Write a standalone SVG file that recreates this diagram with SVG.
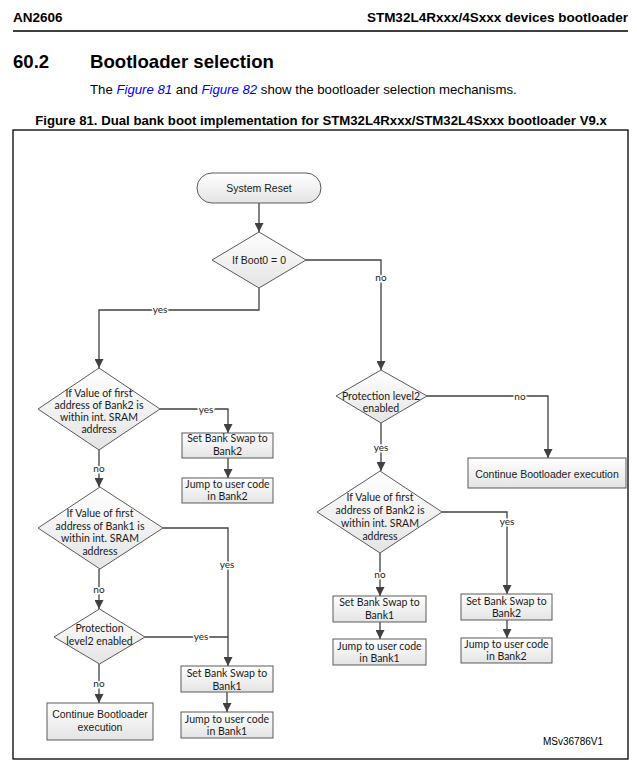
<svg xmlns="http://www.w3.org/2000/svg" width="637" height="766" viewBox="0 0 637 766">
<defs>
<linearGradient id="g" x1="0" y1="0" x2="0" y2="1">
<stop offset="0" stop-color="#ffffff"/>
<stop offset="1" stop-color="#e4e4e4"/>
</linearGradient>
<marker id="arr" viewBox="0 0 10 10" refX="10" refY="5" markerWidth="9" markerHeight="9" markerUnits="userSpaceOnUse" orient="auto">
<path d="M0,0 L10,5 L0,10 Z" fill="#404040"/>
</marker>
<style>
.hd{font-family:"Liberation Sans",Arial,sans-serif;font-weight:bold;fill:#000}
.bd{font-family:"Liberation Sans",Arial,sans-serif;fill:#000}
.lk{fill:#0000ff;font-style:italic}
.node{fill:url(#g);stroke:#5a5a5a;stroke-width:1}
.t{font-family:Lato,"Open Sans",sans-serif;font-size:10.5px;fill:#1a1a1a;text-anchor:middle}
.a{font-family:"Liberation Sans",Arial,sans-serif;font-size:10.5px;fill:#1a1a1a;text-anchor:middle}
.c{fill:none;stroke:#404040;stroke-width:1.3}
.ca{fill:none;stroke:#404040;stroke-width:1.3;marker-end:url(#arr)}
.lb{font-family:Lato,"Open Sans",sans-serif;font-size:10px;fill:#1a1a1a;text-anchor:middle;stroke:#fff;stroke-width:3px;paint-order:stroke}
</style>
</defs>
<rect width="637" height="766" fill="#fff"/>
<text class="hd" x="13" y="22" font-size="13.5">AN2606</text>
<text class="hd" x="628" y="22" font-size="13.5" text-anchor="end">STM32L4Rxxx/4Sxxx devices bootloader</text>
<line x1="13" y1="31" x2="628" y2="31" stroke="#000" stroke-width="1.3"/>
<text class="hd" x="13" y="68" font-size="18.6">60.2</text>
<text class="hd" x="90" y="68" font-size="18.6">Bootloader selection</text>
<text class="bd" x="90" y="94" font-size="13.2">The <tspan class="lk">Figure 81</tspan> and <tspan class="lk">Figure 82</tspan> show the bootloader selection mechanisms.</text>
<text class="hd" x="321" y="125" font-size="13.2" text-anchor="middle">Figure 81. Dual bank boot implementation for STM32L4Rxxx/STM32L4Sxxx bootloader V9.x</text>
<rect x="13" y="130" width="615" height="629" fill="none" stroke="#000" stroke-width="1.3"/>

<g id="connectors">
<path class="ca" d="M259,203 V232"/>
<path class="ca" d="M306,260 H381 V370"/>
<path class="ca" d="M259,288 V310 H99 V368"/>
<path class="ca" d="M160,409 H228 V433"/>
<path class="ca" d="M228,458 V478"/>
<path class="ca" d="M99,450 V487"/>
<path class="ca" d="M163,528 H228 V666"/>
<path class="ca" d="M99,569 V609"/>
<path class="c" d="M145,637 H228"/>
<path class="ca" d="M99,664 V703"/>
<path class="ca" d="M227,692 V712"/>
<path class="ca" d="M427,396 H548 V458"/>
<path class="ca" d="M381,423 V471"/>
<path class="ca" d="M442,512 H507 V594"/>
<path class="ca" d="M380,553 V596"/>
<path class="ca" d="M380,622 V639"/>
<path class="ca" d="M507,620 V638"/>
<text class="lb" x="381" y="281">no</text>
<text class="lb" x="160" y="313">yes</text>
<text class="lb" x="206" y="413">yes</text>
<text class="lb" x="99" y="472">no</text>
<text class="lb" x="227" y="568">yes</text>
<text class="lb" x="99" y="593">no</text>
<text class="lb" x="201" y="640">yes</text>
<text class="lb" x="99" y="687">no</text>
<text class="lb" x="520" y="400">no</text>
<text class="lb" x="381" y="451">yes</text>
<text class="lb" x="507" y="525">yes</text>
<text class="lb" x="380" y="578">no</text>
</g>

<g id="reset"><rect class="node" x="197" y="173" width="124" height="30" rx="15"/><text class="a" x="259" y="192">System Reset</text></g>
<g id="d_boot"><polygon class="node" points="259,232 306,260 259,288 212,260"/><text class="a" x="259" y="264" font-size="10">If Boot0 = 0</text></g>
<g id="d_b2"><polygon class="node" points="99,368 160,409 99,450 38,409"/><text class="t" x="99" y="397">If Value of first</text><text class="t" x="99" y="409">address of Bank2 is</text><text class="t" x="99" y="421">within int. SRAM</text><text class="t" x="99" y="433">address</text></g>
<g id="sb2a"><rect class="node" x="182" y="433" width="91" height="25"/><text class="t" x="227.5" y="442">Set Bank Swap to</text><text class="t" x="227.5" y="455">Bank2</text></g>
<g id="jb2a"><rect class="node" x="182" y="478" width="91" height="25"/><text class="t" x="227.5" y="488">Jump to user code</text><text class="t" x="227.5" y="500">in Bank2</text></g>
<g id="d_b1"><polygon class="node" points="100,487 163,528 100,569 38,528"/><text class="t" x="100" y="517">If Value of first</text><text class="t" x="100" y="530">address of Bank1 is</text><text class="t" x="100" y="542">within int. SRAM</text><text class="t" x="100" y="555">address</text></g>
<g id="d_pl_l"><polygon class="node" points="99.5,609 145,637 99.5,664 54,637"/><text class="t" x="99.5" y="632">Protection</text><text class="t" x="99.5" y="645">level2 enabled</text></g>
<g id="cont_l"><rect class="node" x="47" y="703" width="106" height="37"/><text class="a" x="100" y="718" font-size="11">Continue Bootloader</text><text class="a" x="100" y="731" font-size="11">execution</text></g>
<g id="sb1a"><rect class="node" x="181" y="666" width="92" height="26"/><text class="t" x="227" y="677">Set Bank Swap to</text><text class="t" x="227" y="690">Bank1</text></g>
<g id="jb1a"><rect class="node" x="181" y="712" width="92" height="26"/><text class="t" x="227" y="723">Jump to user code</text><text class="t" x="227" y="735">in Bank1</text></g>
<g id="d_pl_r"><polygon class="node" points="381,370 427,396 381,423 336,396"/><text class="t" x="381" y="400">Protection level2</text><text class="t" x="381" y="412">enabled</text></g>
<g id="cont_r"><rect class="node" x="468" y="458" width="158" height="30"/><text class="a" x="547" y="478" font-size="11">Continue Bootloader execution</text></g>
<g id="d_b2r"><polygon class="node" points="380,471 442,512 380,553 317,512"/><text class="t" x="380" y="501">If Value of first</text><text class="t" x="380" y="514">address of Bank2 is</text><text class="t" x="380" y="527">within int. SRAM</text><text class="t" x="380" y="540">address</text></g>
<g id="sb1b"><rect class="node" x="333" y="596" width="93" height="26"/><text class="t" x="379.5" y="606">Set Bank Swap to</text><text class="t" x="379.5" y="619">Bank1</text></g>
<g id="jb1b"><rect class="node" x="333" y="639" width="93" height="26"/><text class="t" x="379.5" y="650">Jump to user code</text><text class="t" x="379.5" y="662">in Bank1</text></g>
<g id="sb2b"><rect class="node" x="461" y="594" width="91" height="26"/><text class="t" x="506.5" y="605">Set Bank Swap to</text><text class="t" x="506.5" y="617">Bank2</text></g>
<g id="jb2b"><rect class="node" x="461" y="638" width="91" height="25"/><text class="t" x="506.5" y="648">Jump to user code</text><text class="t" x="506.5" y="660">in Bank2</text></g>
<text class="bd" x="543" y="745" font-size="10">MSv36786V1</text>
</svg>
